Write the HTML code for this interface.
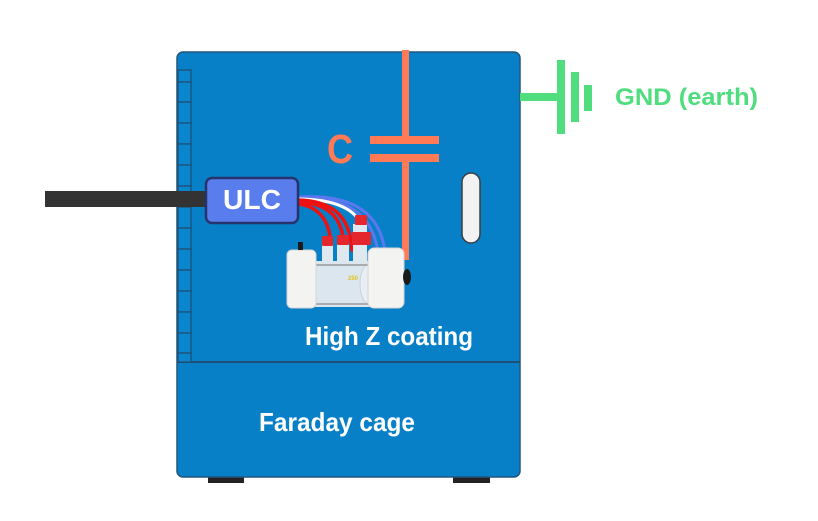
<!DOCTYPE html>
<html>
<head>
<meta charset="utf-8">
<style>
  html,body{margin:0;padding:0;background:#ffffff;}
  body{width:818px;height:521px;overflow:hidden;}
  svg{display:block;}
  text{font-family:"Liberation Sans",sans-serif;font-weight:bold;}
</style>
</head>
<body>
<svg width="818" height="521" viewBox="0 0 818 521" xmlns="http://www.w3.org/2000/svg">
  <!-- feet -->
  <rect x="208" y="476" width="36" height="7" fill="#222"/>
  <rect x="453" y="476" width="37" height="7" fill="#222"/>
  <!-- cabinet -->
  <rect x="177" y="52" width="343" height="425" rx="6" ry="6" fill="#0780c7" stroke="#24557c" stroke-width="1.5"/>
  <!-- divider -->
  <line x1="177" y1="362" x2="520" y2="362" stroke="#1f4f77" stroke-width="2"/>
  <!-- hinge strip -->
  <g fill="#0a86cf" stroke="#1f4f77" stroke-width="1.3">
    <rect x="178" y="70" width="13" height="12"/>
    <rect x="178" y="82" width="13" height="20"/>
    <rect x="178" y="102" width="13" height="21"/>
    <rect x="178" y="123" width="13" height="21"/>
    <rect x="178" y="144" width="13" height="21"/>
    <rect x="178" y="165" width="13" height="21"/>
    <rect x="178" y="186" width="13" height="21"/>
    <rect x="178" y="207" width="13" height="21"/>
    <rect x="178" y="228" width="13" height="21"/>
    <rect x="178" y="249" width="13" height="21"/>
    <rect x="178" y="270" width="13" height="21"/>
    <rect x="178" y="291" width="13" height="21"/>
    <rect x="178" y="312" width="13" height="21"/>
    <rect x="178" y="333" width="13" height="20"/>
    <rect x="178" y="353" width="13" height="9"/>
  </g>
  <!-- window slot -->
  <rect x="462" y="173" width="18" height="70" rx="9" ry="9" fill="#f2f2f2" stroke="#3d3d3d" stroke-width="1.5"/>

  <!-- capacitor -->
  <rect x="402" y="50" width="7" height="87" fill="#ff7a55"/>
  <rect x="370" y="136" width="69" height="8" fill="#ff7a55"/>
  <rect x="370" y="154" width="69" height="8" fill="#ff7a55"/>
  <rect x="402" y="161" width="7" height="99" fill="#ff7a55"/>
  <text x="327" y="163" font-size="41" fill="#ff7a55" textLength="26" lengthAdjust="spacingAndGlyphs">C</text>

  <!-- GND -->
  <rect x="520" y="93" width="40" height="8" fill="#4fdd7e"/>
  <rect x="557" y="60" width="8" height="74" fill="#4fdd7e"/>
  <rect x="571" y="72" width="8" height="50" fill="#4fdd7e"/>
  <rect x="584" y="85" width="8" height="26" fill="#4fdd7e"/>
  <text x="615" y="105" font-size="24" fill="#4fdd7e" textLength="143" lengthAdjust="spacingAndGlyphs">GND (earth)</text>

  <!-- black cable -->
  <rect x="45" y="191" width="162" height="16" fill="#333333"/>

  <!-- wires -->
  <g fill="none" stroke-linecap="round">
    <path d="M298,197 C352,194 380,212 385,252" stroke="#5b78ef" stroke-width="3"/>
    <path d="M298,198 C346,197 372,212 378,252" stroke="#5b78ef" stroke-width="3"/>
    <path d="M298,199 C336,199 356,210 362,226" stroke="#ffffff" stroke-width="3"/>
    <path d="M298,200 C335,201 350,218 352,250" stroke="#ee1111" stroke-width="3.5"/>
    <path d="M298,202 C326,203 340,216 343,237" stroke="#ee1111" stroke-width="3.5"/>
    <path d="M298,204 C318,206 328,220 330,237" stroke="#ee1111" stroke-width="3.5"/>
  </g>

  <!-- cell -->
  <!-- glass necks -->
  <rect x="322" y="244" width="11" height="20" fill="#dfe8ef"/>
  <rect x="337" y="244" width="12" height="20" fill="#dfe8ef"/>
  <rect x="353" y="224" width="14" height="40" fill="#dfe8ef"/>
  <!-- caps -->
  <rect x="322" y="236" width="11" height="10" rx="1" fill="#e5262d"/>
  <rect x="337" y="235" width="12" height="10" rx="1" fill="#e5262d"/>
  <rect x="352" y="232" width="19" height="13" rx="1" fill="#e5262d"/>
  <rect x="355" y="215" width="12" height="10" rx="1" fill="#e5262d"/>
  <!-- glass body -->
  <rect x="314" y="261" width="57" height="46" fill="#dbe6ee"/>
  <ellipse cx="369" cy="284" rx="9" ry="20" fill="#e8eef3" stroke="#c8d2da" stroke-width="1"/>
  <line x1="314" y1="265" x2="372" y2="265" stroke="#9a9a9a" stroke-width="1.5"/>
  <line x1="314" y1="304" x2="372" y2="304" stroke="#9a9a9a" stroke-width="1.5"/>
  <text x="348" y="280" font-size="6" fill="#e4c21b">250</text>
  <!-- endcaps -->
  <rect x="287" y="250" width="29" height="58" rx="5" fill="#f3f3f1" stroke="#d6d6d4" stroke-width="1"/>
  <rect x="368" y="248" width="36" height="60" rx="6" fill="#f3f3f1" stroke="#d6d6d4" stroke-width="1"/>
  <rect x="298" y="242" width="5" height="8" fill="#1a1a1a"/>
  <ellipse cx="407" cy="277" rx="4" ry="8" fill="#1a1a1a"/>

  <!-- ULC box -->
  <rect x="206" y="178" width="92" height="45" rx="6" ry="6" fill="#5a7ded" stroke="#27346b" stroke-width="2.5"/>
  <text x="223" y="209" font-size="28" fill="#ffffff" textLength="58" lengthAdjust="spacingAndGlyphs">ULC</text>

  <!-- labels -->
  <text x="305" y="345" font-size="26" fill="#ffffff" textLength="168" lengthAdjust="spacingAndGlyphs">High Z coating</text>
  <text x="259" y="431" font-size="26" fill="#ffffff" textLength="156" lengthAdjust="spacingAndGlyphs">Faraday cage</text>
</svg>
</body>
</html>
